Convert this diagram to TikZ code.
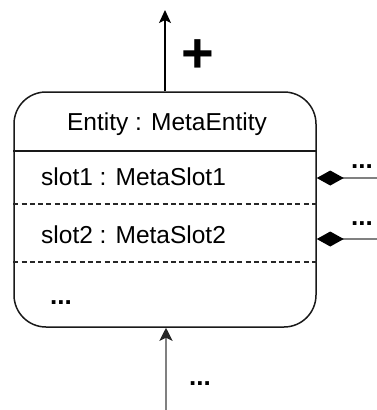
\documentclass[tikz,border=0pt]{standalone}
\usepackage{fontspec}
\setmainfont{Liberation Sans}
\usetikzlibrary{arrows.meta}
\begin{document}
\begin{tikzpicture}[x=1pt,y=-1pt,
  entity/.style={draw=black!90, line width=1.5pt, rounded corners=32pt,
    minimum width=302pt, minimum height=235pt, inner sep=0pt},
  lbl/.style={inner sep=0pt, font=\fontsize{24.5}{28}\selectfont},
  dots/.style={inner sep=0pt, font=\fontsize{26}{28}\selectfont\bfseries},
  solidrule/.style={draw=black!90, line width=1.3pt},
  dashrule/.style={draw=black!85, line width=1.1pt, dash pattern=on 5pt off 3.3pt},
  uparrow/.style={draw=black, line width=1.3pt, -{Stealth[length=13pt,width=12pt,inset=3pt]}},
  inarrow/.style={draw=black!50, line width=2.6pt, -{Stealth[black!85,length=13pt,width=13pt,inset=3pt]}},
  comp/.style={draw=black!50, line width=2.4pt, {Diamond[black,length=27pt,width=15pt]}-}
]
\useasboundingbox (0,0) rectangle (377,410);

% class box
\node[entity] (box) at (165,209.5) {};

% compartment rules
\coordinate (h) at (0,151);
\coordinate (d1) at (0,204);
\coordinate (d2) at (0,262);
\draw[solidrule] (box.west |- h) -- (box.east |- h);
\draw[dashrule] (box.west |- d1) -- (box.east |- d1);
\draw[dashrule] (box.west |- d2) -- (box.east |- d2);

% texts
\node[lbl, anchor=base] (title) at (167,130) {Entity : MetaEntity};
\node[lbl, anchor=base west] (slot1) at (41,185) {slot1 : MetaSlot1};
\node[lbl, anchor=base west] (slot2) at (41,243) {slot2 : MetaSlot2};
\node[dots, anchor=base west] (more) at (50,304) {...};

% outgoing generalisation
\coordinate (up) at (165,10);
\draw[uparrow] (box.north) -- (up);
\node[inner sep=0pt, font=\fontsize{56}{60}\selectfont\bfseries] (plus) at (198,56) {+};

% incoming reference
\coordinate (down) at (166,410);
\draw[inarrow] (down) -- (down |- box.south);
\node[dots, anchor=base west] (inlbl) at (189,385) {...};

% composition links
\coordinate (r1) at (377,178);
\coordinate (r2) at (377,239);
\draw[comp] (box.east |- r1) -- (r1);
\draw[comp] (box.east |- r2) -- (r2);
\node[dots, anchor=base west] (l1) at (351,168) {...};
\node[dots, anchor=base west] (l2) at (351,225) {...};
\end{tikzpicture}
\end{document}
